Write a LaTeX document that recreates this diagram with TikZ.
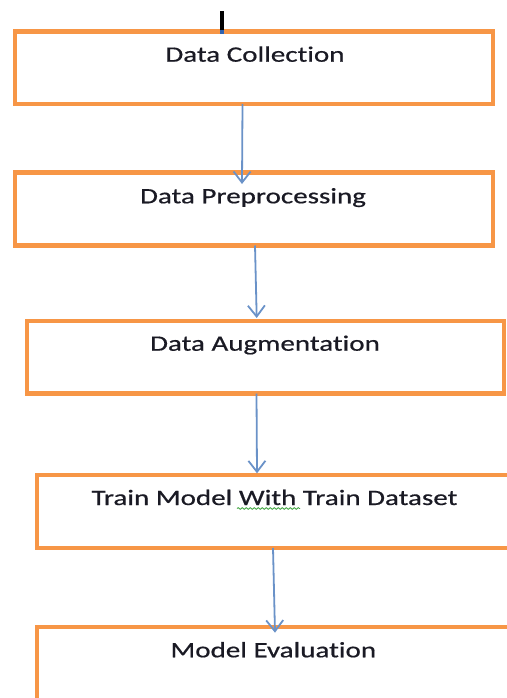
\documentclass[tikz,border=0pt]{standalone}
\usepackage{fontspec}
\setmainfont{Carlito}[FakeStretch=1.32, FakeBold=0.6, Ligatures=NoCommon]
\usetikzlibrary{arrows.meta,decorations.pathmorphing}
\definecolor{boxorange}{HTML}{F79646}
\definecolor{flowblue}{HTML}{6A92C8}
\definecolor{labeltext}{HTML}{1A1A24}
\definecolor{spellgreen}{HTML}{3DA33D}
\definecolor{caretblue}{HTML}{2F62B0}

\begin{document}
\begin{tikzpicture}[x=1pt,y=1pt,
  stage/.style={draw=boxorange, line width=4.5pt, rectangle, inner sep=0pt,
                outer sep=0pt, minimum width=478pt, minimum height=73pt},
  caption/.style={anchor=base, inner sep=0pt, text=labeltext,
                  font=\fontsize{22}{26}\selectfont},
  flow/.style={draw=flowblue, line width=1.8pt,
               -{Straight Barb[length=11pt,width=17pt]}}]
\useasboundingbox (0,0) rectangle (506,-698);

% stage boxes
\node[stage, minimum height=72.3pt] (b1) at (254,-67.85) {};
\node[stage] (b2) at (254,-209) {};
\node[stage, minimum width=477pt, minimum height=72.5pt] (b3) at (265.5,-357.25) {};
\node[stage] (b4) at (276,-511.5) {};
\node[stage] (b5) at (276,-663.5) {};

% captions
\node[caption] (t1) at ([xshift=1pt,yshift=-30pt]b1.north) {Data Collection};
\node[caption] (t2) at ([xshift=-1pt,yshift=-30.8pt]b2.north) {Data Preprocessing};
\node[caption] (t3) at ([xshift=-0.5pt,yshift=-29.7pt]b3.north) {Data Augmentation};
\node[caption] (t4) at ([xshift=-1.5pt,yshift=-30pt]b4.north) {Train Model With Train Dataset};
\node[caption] (t5) at ([xshift=-2.7pt,yshift=-30.3pt]b5.north) {Model Evaluation};

% spell-check underline under "With"
\draw[spellgreen, line width=0.8pt, decorate,
      decoration={snake, amplitude=0.9pt, segment length=4pt}]
  (237,-508.5) -- (300,-508.5);

% flow arrows
\draw[flow] ([xshift=-11.5pt]b1.south) -- ([xshift=-12pt,yshift=-11.5pt]b2.north);
\draw[flow] ([xshift=1pt]b2.south) -- ([xshift=-8.8pt,yshift=3pt]b3.north);
\draw[flow] ([xshift=-9pt]b3.south) -- ([xshift=-19pt,yshift=1.7pt]b4.north);
\draw[flow] ([xshift=-3pt]b4.south) -- ([xshift=-1pt,yshift=-5.7pt]b5.north);

% text caret above the first box
\fill[black] (219.5,-10.7) rectangle (224,-34);
\fill[caretblue] (219.5,-30.5) rectangle (224,-34);
\end{tikzpicture}
\end{document}
